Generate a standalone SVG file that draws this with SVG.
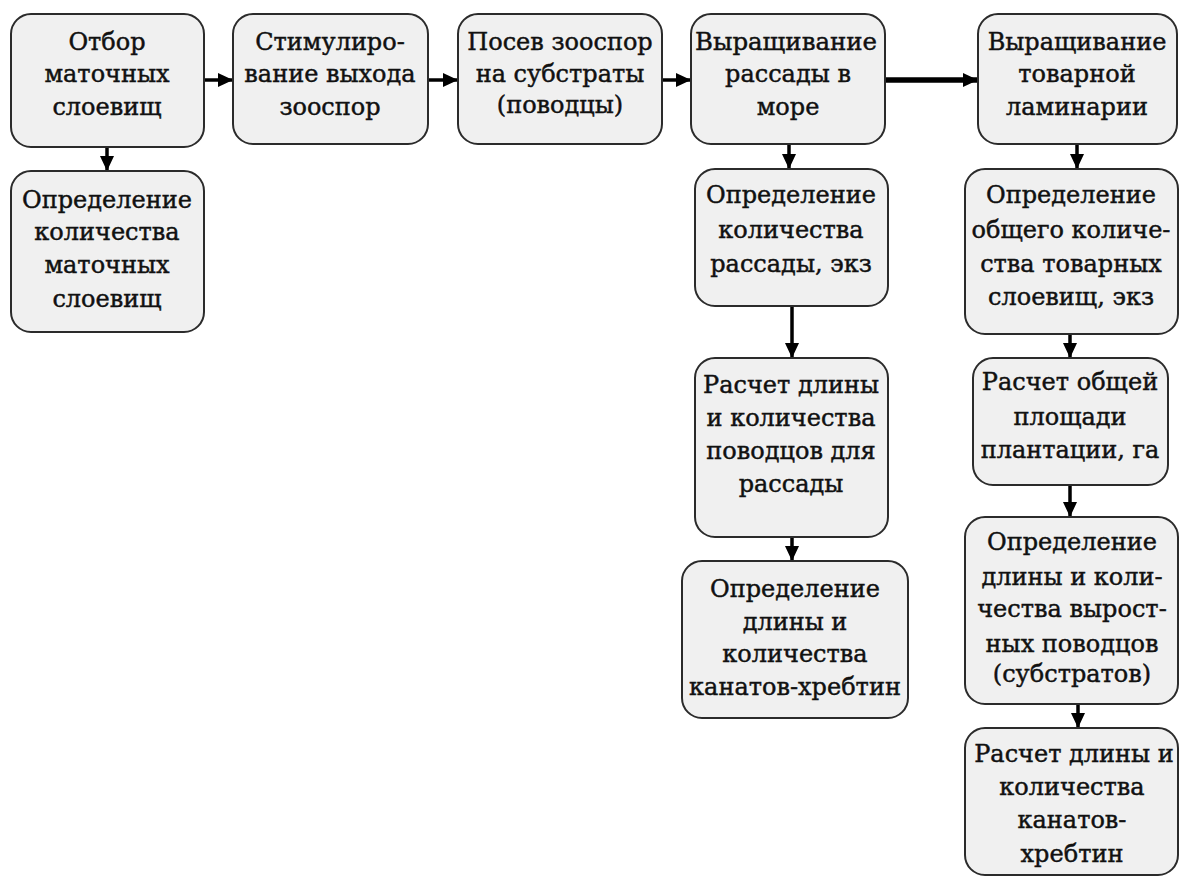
<svg xmlns="http://www.w3.org/2000/svg" width="1179" height="877" viewBox="0 0 1179 877">
<defs>
<style>
.box{fill:#f0f0f0;stroke:#2b2b2b;stroke-width:2}
.t{font-family:"DejaVu Serif","Liberation Serif",serif;font-size:24px;fill:#111;stroke:#111;stroke-width:0.45;text-anchor:middle}
.c{stroke:#000;stroke-width:3.5;fill:none}
.ct{stroke:#000;stroke-width:5.5;fill:none}
</style>
<marker id="ah" markerUnits="userSpaceOnUse" markerWidth="17" markerHeight="16" refX="15" refY="8" orient="auto">
<path d="M0,1 L15,8 L0,15 Z" fill="#000"/>
</marker>
</defs>
<rect width="1179" height="877" fill="#fff"/>
<g id="connectors">
<line class="c" x1="204" y1="80" x2="233" y2="80" marker-end="url(#ah)"/>
<line class="c" x1="428" y1="80" x2="458" y2="80" marker-end="url(#ah)"/>
<line class="c" x1="662" y1="80" x2="691" y2="80" marker-end="url(#ah)"/>
<line class="ct" x1="885" y1="80" x2="978" y2="80" marker-end="url(#ah)"/>
<line class="c" x1="107" y1="147" x2="107" y2="171" marker-end="url(#ah)"/>
<line class="c" x1="789" y1="144" x2="789" y2="169" marker-end="url(#ah)"/>
<line class="c" x1="1077" y1="144" x2="1077" y2="169" marker-end="url(#ah)"/>
<line class="c" x1="792" y1="306" x2="792" y2="358" marker-end="url(#ah)"/>
<line class="c" x1="792" y1="537" x2="792" y2="561" marker-end="url(#ah)"/>
<line class="c" x1="1070" y1="334" x2="1070" y2="358" marker-end="url(#ah)"/>
<line class="c" x1="1070" y1="485" x2="1070" y2="517" marker-end="url(#ah)"/>
<line class="c" x1="1078" y1="704" x2="1078" y2="728" marker-end="url(#ah)"/>
</g>
<g id="n1"><rect class="box" x="11" y="14" width="193" height="133" rx="20"/>
<text class="t" x="107" y="50">Отбор</text><text class="t" x="107" y="82">маточных</text><text class="t" x="107" y="115">слоевищ</text></g>
<g id="n2"><rect class="box" x="11" y="171" width="193" height="161" rx="20"/>
<text class="t" x="107" y="208">Определение</text><text class="t" x="107" y="240">количества</text><text class="t" x="107" y="273">маточных</text><text class="t" x="107" y="307">слоевищ</text></g>
<g id="n3"><rect class="box" x="233" y="14" width="195" height="130" rx="20"/>
<text class="t" x="330" y="50">Стимулиро-</text><text class="t" x="330" y="82">вание выхода</text><text class="t" x="330" y="115">зооспор</text></g>
<g id="n4"><rect class="box" x="458" y="14" width="204" height="130" rx="20"/>
<text class="t" x="560" y="50">Посев зооспор</text><text class="t" x="560" y="82">на субстраты</text><text class="t" x="560" y="113">(поводцы)</text></g>
<g id="n5"><rect class="box" x="691" y="14" width="194" height="130" rx="20"/>
<text class="t" x="786" y="50" textLength="182" lengthAdjust="spacingAndGlyphs">Выращивание</text><text class="t" x="788" y="82">рассады в</text><text class="t" x="788" y="115">море</text></g>
<g id="n6"><rect class="box" x="978" y="14" width="199" height="130" rx="20"/>
<text class="t" x="1077" y="50">Выращивание</text><text class="t" x="1077" y="82">товарной</text><text class="t" x="1077" y="115">ламинарии</text></g>
<g id="n7"><rect class="box" x="695" y="169" width="193" height="137" rx="20"/>
<text class="t" x="791" y="203">Определение</text><text class="t" x="791" y="238">количества</text><text class="t" x="791" y="272">рассады, экз</text></g>
<g id="n8"><rect class="box" x="965" y="169" width="213" height="165" rx="20"/>
<text class="t" x="1071" y="203">Определение</text><text class="t" x="1071" y="238">общего количе-</text><text class="t" x="1071" y="272">ства товарных</text><text class="t" x="1071" y="305">слоевищ, экз</text></g>
<g id="n9"><rect class="box" x="695" y="358" width="193" height="179" rx="20"/>
<text class="t" x="791" y="393">Расчет длины</text><text class="t" x="791" y="426">и количества</text><text class="t" x="791" y="459">поводцов для</text><text class="t" x="791" y="492">рассады</text></g>
<g id="n10"><rect class="box" x="682" y="561" width="226" height="157" rx="20"/>
<text class="t" x="795" y="597">Определение</text><text class="t" x="795" y="630">длины и</text><text class="t" x="795" y="662">количества</text><text class="t" x="795" y="695">канатов-хребтин</text></g>
<g id="n11"><rect class="box" x="973" y="358" width="195" height="127" rx="20"/>
<text class="t" x="1070" y="390">Расчет общей</text><text class="t" x="1070" y="425">площади</text><text class="t" x="1070" y="458">плантации, га</text></g>
<g id="n12"><rect class="box" x="965" y="517" width="213" height="187" rx="20"/>
<text class="t" x="1072" y="550">Определение</text><text class="t" x="1072" y="585">длины и коли-</text><text class="t" x="1072" y="617">чества вырост-</text><text class="t" x="1072" y="652">ных поводцов</text><text class="t" x="1072" y="682">(субстратов)</text></g>
<g id="n13"><rect class="box" x="965" y="728" width="213" height="147" rx="20"/>
<text class="t" x="1074" y="762">Расчет длины и</text><text class="t" x="1072" y="795">количества</text><text class="t" x="1072" y="828">канатов-</text><text class="t" x="1072" y="862">хребтин</text></g>
</svg>
